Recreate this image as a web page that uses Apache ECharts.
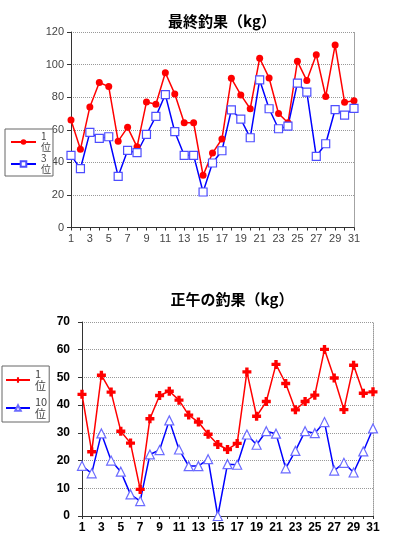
<!DOCTYPE html>
<html><head><meta charset="utf-8">
<script src="https://cdn.jsdelivr.net/npm/echarts@6/dist/echarts.min.js"></script>
<style>html,body{margin:0;padding:0;background:#fff}#c{width:393px;height:556px}</style>
</head><body><div id="c"></div>
<script>
const days = ['1','2','3','4','5','6','7','8','9','10','11','12','13','14','15','16','17','18','19','20','21','22','23','24','25','26','27','28','29','30','31'];

const titleTop = '最終釣果（kg）';
const titleBottom = '正午の釣果（kg）';

const finalFirst = [66,48,74,89,86.5,53,61.5,49.5,77,75.7,95,82,64.3,64.3,32,45.7,54.3,91.6,81.4,72.9,103.9,91.8,70,64.3,102,90.2,106.1,80.4,112,76.9,77.8];
const finalThird = [44.3,36.1,58.4,54.7,55.7,31.4,47.3,45.9,57.1,68.2,81.6,58.8,44.3,44.3,21.8,39.6,47.1,72.2,66.5,55.1,90.6,72.9,60.6,62.2,88.6,83.1,43.7,51.4,72.4,69,73.1];

const noonFirst = [43.9,23.2,50.8,44.7,30.6,26.3,9.6,35.1,43.5,45,41.8,36.4,33.9,29.5,25.8,24,26.2,52,36,41.3,54.7,47.8,38.3,41.3,43.6,60.1,49.8,38.4,54.4,44.3,44.8];
const noonTenth = [18.1,15.4,29.8,20,16,7.8,5.4,22.2,23.8,34.5,24,18,18,20.5,0,18.7,18.5,29.4,25.7,30.6,29.7,17.2,23.5,30.6,29.9,33.9,16.4,19.2,15.7,23.3,31.6];

const legendText = {'1位（最終）':'1\n位','3位（最終）':'3\n位','1位（正午）':'1\n位','10位（正午）':'10\n位'};

const FONT = 'Liberation Sans, Arial, sans-serif';
const CJK = 'Noto Sans CJK JP, sans-serif';

function xAx(gi, bold){
  return {type:'category', gridIndex:gi, data:days, boundaryGap:false,
    axisLine:{lineStyle:{color:'#333',width:1}},
    axisTick:{interval:0, length:3, lineStyle:{color:'#333'}},
    axisLabel:{interval:1, margin:6, fontFamily:FONT, fontSize:bold?12:11, fontWeight:bold?'bold':'normal', color:bold?'#000':'#444'},
    splitLine:{show:false}};
}
function yAx(gi, max, step, bold){
  return {type:'value', gridIndex:gi, min:0, max:max, interval:step,
    axisLine:{show:true, lineStyle:{color:'#333',width:1}},
    axisTick:{show:true, length:4, lineStyle:{color:'#333'}},
    axisLabel:{margin:bold?12:7, fontFamily:FONT, fontSize:bold?12:11, fontWeight:bold?'bold':'normal', color:bold?'#000':'#444'},
    splitLine:{show:true, lineStyle:{color:'#999', type:'dotted', width:1}}};
}
function yRight(gi, max, step){
  return {type:'value', gridIndex:gi, position:'right', min:0, max:max, interval:step,
    axisLine:{show:true, lineStyle:{color:'#999', type:'dotted'}},
    axisTick:{show:false}, axisLabel:{show:false}, splitLine:{show:false}};
}

const crossPath = 'path://M2.5,0H5.5V2.5H8V5.5H5.5V8H2.5V5.5H0V2.5H2.5Z';

const option = {
  animation:false,
  backgroundColor:'#fff',
  title:[
    {text:titleTop, left:222, top:14, textAlign:'center', padding:0,
     textStyle:{fontFamily:CJK, fontSize:15, fontWeight:'bold', color:'#000'}},
    {text:titleBottom, left:232, top:292, textAlign:'center', padding:0,
     textStyle:{fontFamily:CJK, fontSize:15, fontWeight:'bold', color:'#000'}}
  ],
  legend:[
    {orient:'vertical', left:5, top:129, padding:[2,2,1,5], itemGap:0, itemWidth:25, itemHeight:7,
     data:['1位（最終）','3位（最終）'], formatter:n=>legendText[n],
     backgroundColor:'#fff', borderColor:'#666', borderWidth:1, selectedMode:false,
     textStyle:{fontFamily:CJK, fontSize:10, lineHeight:11, color:'#444'}},
    {orient:'vertical', left:2, top:366, padding:[2,2,2,3], itemGap:4, itemWidth:24, itemHeight:7,
     data:['1位（正午）','10位（正午）'], formatter:n=>legendText[n],
     backgroundColor:'#fff', borderColor:'#666', borderWidth:1, selectedMode:false,
     textStyle:{fontFamily:CJK, fontSize:11, lineHeight:12, color:'#444'}}
  ],
  grid:[
    {left:71, right:39, top:32, height:195.5, containLabel:false},
    {left:82, right:20, top:322, height:194, containLabel:false}
  ],
  xAxis:[xAx(0,false), xAx(1,true)],
  yAxis:[yAx(0,120,20,false), yAx(1,70,10,true), yRight(0,120,20), yRight(1,70,10)],
  series:[
    {name:'1位（最終）', type:'line', xAxisIndex:0, yAxisIndex:0, data:finalFirst, showAllSymbol:true,
     symbol:'circle', symbolSize:7, color:'#ff0000',
     lineStyle:{color:'#ff0000', width:1.5}, itemStyle:{color:'#ff0000'}},
    {name:'3位（最終）', type:'line', xAxisIndex:0, yAxisIndex:0, data:finalThird, showAllSymbol:true,
     symbol:'rect', symbolSize:8, color:'#0000ff',
     lineStyle:{color:'#0000ff', width:1.5}, itemStyle:{color:'#fff', borderColor:'#4d4dff', borderWidth:1.2}},
    {name:'1位（正午）', type:'line', xAxisIndex:1, yAxisIndex:1, data:noonFirst, showAllSymbol:true,
     symbol:crossPath, symbolSize:9, color:'#ff0000',
     lineStyle:{color:'#ff0000', width:1.5}, itemStyle:{color:'#ff0000'}},
    {name:'10位（正午）', type:'line', xAxisIndex:1, yAxisIndex:1, data:noonTenth, showAllSymbol:true,
     symbol:'triangle', symbolSize:9, color:'#0000ff',
     lineStyle:{color:'#0000ff', width:1.5}, itemStyle:{color:'#fff', borderColor:'#6b6bff', borderWidth:1.2}}
  ]
};
const chart = echarts.init(document.getElementById('c'), null, {renderer:'canvas'});
chart.setOption(option);
</script>
</body></html>
